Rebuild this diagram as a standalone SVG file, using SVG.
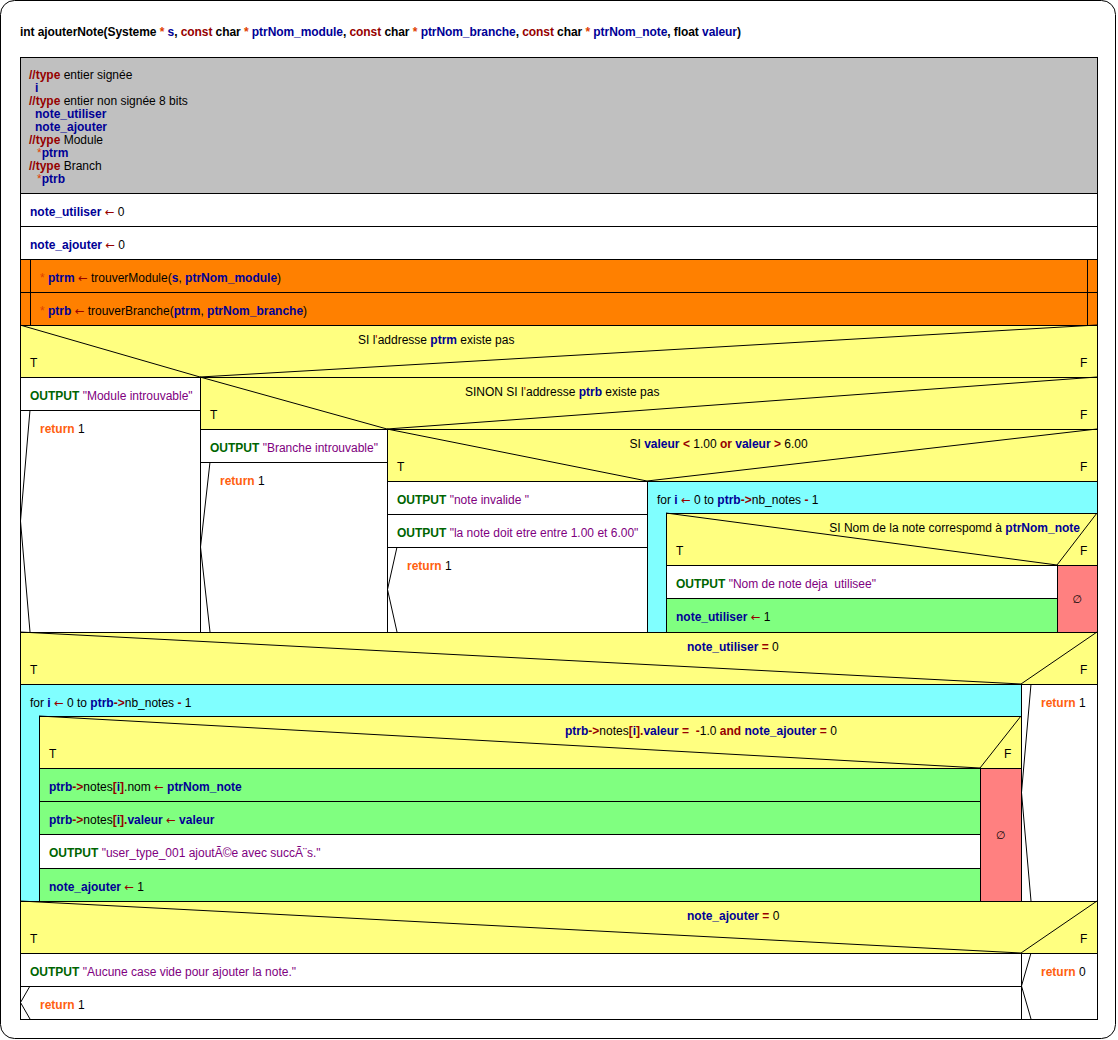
<svg xmlns="http://www.w3.org/2000/svg" width="1118" height="1040" viewBox="0 0 1118 1040">
  <style>
    text { font-family: "Liberation Sans", Arial, "DejaVu Sans", sans-serif; font-size: 12px; fill: #000; white-space: pre; }
    .b { font-weight: bold; }
    .title { letter-spacing: -0.07px; }
    .v { font-weight: bold; fill: #000096; }
    .o { font-weight: bold; fill: #960000; }
    .arr { font-family: "DejaVu Sans", sans-serif; font-size: 11.5px; font-weight: normal; fill: #960000; }
    .ap { fill: #C00000; }
    .star { fill: #E04000; }
    .k { font-weight: bold; fill: #006400; }
    .r { font-weight: bold; fill: #FF6010; }
    .s { fill: #800080; }
    .cell { stroke: #000; stroke-width: 1; shape-rendering: crispEdges; }
    .white { fill: #FFFFFF; }
    .gray { fill: #C0C0C0; }
    .orange { fill: #FF8000; }
    .yellow { fill: #FFFF80; }
    .cyan { fill: #80FFFF; }
    .green { fill: #80FF80; }
    .red { fill: #FF8080; }
    .div { stroke: #000; stroke-width: 1; fill: none; }
    .empty { font-family: "DejaVu Sans", sans-serif; font-size: 11px; text-anchor: middle; }
  </style>

  <!-- outer frame -->
  <rect x="0.5" y="0.5" width="1115" height="1038" rx="14" ry="14" fill="#FFFFFF" stroke="#000" stroke-width="1"/>

  <g id="signature">
    <text x="20" y="36" class="b title">int ajouterNote(Systeme <tspan class="star">*</tspan> <tspan class="v">s</tspan>, <tspan class="o">const</tspan> char <tspan class="star">*</tspan> <tspan class="v">ptrNom_module</tspan>, <tspan class="o">const</tspan> char <tspan class="star">*</tspan> <tspan class="v">ptrNom_branche</tspan>, <tspan class="o">const</tspan> char <tspan class="star">*</tspan> <tspan class="v">ptrNom_note</tspan>, float <tspan class="v">valeur</tspan>)</text>
  </g>

  <!-- cells, drawn on half-pixel grid -->
  <g id="cells" transform="translate(0.5,0.5)">
    <g id="declarations"><rect class="cell gray" x="20" y="57" width="1077" height="136"/></g>
    <g id="init-utiliser"><rect class="cell white" x="20" y="193" width="1077" height="33"/></g>
    <g id="init-ajouter"><rect class="cell white" x="20" y="226" width="1077" height="33"/></g>
    <g id="call-module">
      <rect class="cell orange" x="20" y="259" width="1077" height="33"/>
      <line class="cell" x1="30" y1="259" x2="30" y2="292"/>
      <line class="cell" x1="1087" y1="259" x2="1087" y2="292"/>
    </g>
    <g id="call-branche">
      <rect class="cell orange" x="20" y="292" width="1077" height="33"/>
      <line class="cell" x1="30" y1="292" x2="30" y2="325"/>
      <line class="cell" x1="1087" y1="292" x2="1087" y2="325"/>
    </g>

    <g id="if-ptrm">
      <rect class="cell yellow" x="20" y="325" width="1077" height="52"/>
      <rect class="cell white" x="20" y="377" width="180" height="33"/>
      <rect class="cell white" x="20" y="410" width="180" height="222"/>
    </g>
    <g id="if-ptrb">
      <rect class="cell yellow" x="200" y="377" width="897" height="52"/>
      <rect class="cell white" x="200" y="429" width="187" height="33"/>
      <rect class="cell white" x="200" y="462" width="187" height="170"/>
    </g>
    <g id="if-valeur">
      <rect class="cell yellow" x="387" y="429" width="710" height="52"/>
      <rect class="cell white" x="387" y="481" width="260" height="33"/>
      <rect class="cell white" x="387" y="514" width="260" height="33"/>
      <rect class="cell white" x="387" y="547" width="260" height="85"/>
    </g>
    <g id="loop-check">
      <rect class="cell cyan" x="647" y="481" width="450" height="151"/>
      <rect class="cell yellow" x="666" y="513" width="431" height="52"/>
      <rect class="cell white" x="666" y="565" width="391" height="33"/>
      <rect class="cell green" x="666" y="598" width="391" height="34"/>
      <rect class="cell red" x="1057" y="565" width="40" height="67"/>
    </g>

    <g id="if-utiliser">
      <rect class="cell yellow" x="20" y="632" width="1077" height="52"/>
      <rect class="cell white" x="1021" y="684" width="76" height="217"/>
    </g>
    <g id="loop-add">
      <rect class="cell cyan" x="20" y="684" width="1001" height="217"/>
      <rect class="cell yellow" x="39" y="716" width="982" height="52"/>
      <rect class="cell green" x="39" y="768" width="941" height="33"/>
      <rect class="cell green" x="39" y="801" width="941" height="33"/>
      <rect class="cell white" x="39" y="834" width="941" height="34"/>
      <rect class="cell green" x="39" y="868" width="941" height="33"/>
      <rect class="cell red" x="980" y="768" width="41" height="133"/>
    </g>

    <g id="if-ajouter">
      <rect class="cell yellow" x="20" y="901" width="1077" height="52"/>
      <rect class="cell white" x="20" y="953" width="1001" height="33"/>
      <rect class="cell white" x="20" y="986" width="1001" height="33"/>
      <rect class="cell white" x="1021" y="953" width="76" height="66"/>
    </g>
  </g>

  <!-- branch diagonals and jump chevrons -->
  <g id="connectors">
    <polyline class="div" points="20,325 200,377 1097,325"/>
    <polyline class="div" points="200,377 387,429 1097,377"/>
    <polyline class="div" points="387,429 647,481 1097,429"/>
    <polyline class="div" points="666,513 1057,565 1097,513"/>
    <polyline class="div" points="20,632 1021,684 1097,632"/>
    <polyline class="div" points="39,716 980,768 1021,716"/>
    <polyline class="div" points="20,901 1021,953 1097,901"/>

    <polyline class="div" points="30,410 20.5,521 30,632"/>
    <polyline class="div" points="210,462 200.5,547 210,632"/>
    <polyline class="div" points="397,547 387.5,589.5 397,632"/>
    <polyline class="div" points="1031,684 1021.5,792.5 1031,901"/>
    <polyline class="div" points="30,986 20.5,1002.5 30,1019"/>
    <polyline class="div" points="1031,953 1021.5,986 1031,1019"/>
  </g>

  <g id="texts">
    <!-- declarations -->
    <text x="29" y="79"><tspan class="o">//type</tspan> entier signée</text>
    <text x="35" y="92" class="v">i</text>
    <text x="29" y="105"><tspan class="o">//type</tspan> entier non signée 8 bits</text>
    <text x="35" y="118" class="v">note_utiliser</text>
    <text x="35" y="131" class="v">note_ajouter</text>
    <text x="29" y="144"><tspan class="o">//type</tspan> Module</text>
    <text x="37" y="157"><tspan class="star">*</tspan><tspan class="v">ptrm</tspan></text>
    <text x="29" y="170"><tspan class="o">//type</tspan> Branch</text>
    <text x="37" y="183"><tspan class="star">*</tspan><tspan class="v">ptrb</tspan></text>

    <text x="30" y="216"><tspan class="v">note_utiliser</tspan> <tspan class="arr">←</tspan> 0</text>
    <text x="30" y="249"><tspan class="v">note_ajouter</tspan> <tspan class="arr">←</tspan> 0</text>
    <text x="40" y="282"><tspan class="star">*</tspan> <tspan class="v">ptrm</tspan> <tspan class="arr">←</tspan> trouverModule(<tspan class="v">s</tspan>, <tspan class="v">ptrNom_module</tspan>)</text>
    <text x="40" y="315"><tspan class="star">*</tspan> <tspan class="v">ptrb</tspan> <tspan class="arr">←</tspan> trouverBranche(<tspan class="v">ptrm</tspan>, <tspan class="v">ptrNom_branche</tspan>)</text>

    <!-- if ptrm -->
    <text x="358" y="344">SI l<tspan class="ap">'</tspan>addresse <tspan class="v">ptrm</tspan> existe pas</text>
    <text x="30" y="367">T</text>
    <text x="1080" y="367">F</text>
    <text x="30" y="400"><tspan class="k">OUTPUT</tspan> <tspan class="s">"Module introuvable"</tspan></text>
    <text x="40" y="433"><tspan class="r">return</tspan> 1</text>

    <!-- if ptrb -->
    <text x="465" y="396">SINON SI l<tspan class="ap">'</tspan>addresse <tspan class="v">ptrb</tspan> existe pas</text>
    <text x="210" y="419">T</text>
    <text x="1080" y="419">F</text>
    <text x="210" y="452"><tspan class="k">OUTPUT</tspan> <tspan class="s">"Branche introuvable"</tspan></text>
    <text x="220" y="485"><tspan class="r">return</tspan> 1</text>

    <!-- if valeur -->
    <text x="629.5" y="448">SI <tspan class="v">valeur</tspan> <tspan class="o">&lt;</tspan> 1.00 <tspan class="o">or</tspan> <tspan class="v">valeur</tspan> <tspan class="o">&gt;</tspan> 6.00</text>
    <text x="397" y="471">T</text>
    <text x="1080" y="471">F</text>
    <text x="397" y="504"><tspan class="k">OUTPUT</tspan> <tspan class="s">"note invalide "</tspan></text>
    <text x="397" y="537"><tspan class="k">OUTPUT</tspan> <tspan class="s">"la note doit etre entre 1.00 et 6.00"</tspan></text>
    <text x="407" y="570"><tspan class="r">return</tspan> 1</text>

    <!-- loop check -->
    <text x="657" y="504">for <tspan class="v">i</tspan> <tspan class="arr">←</tspan> 0 to <tspan class="v">ptrb</tspan><tspan class="o">-&gt;</tspan>nb_notes <tspan class="o">-</tspan> 1</text>
    <text x="1080" y="532" text-anchor="end">SI Nom de la note correspomd à <tspan class="v">ptrNom_note</tspan></text>
    <text x="676" y="555">T</text>
    <text x="1080" y="555">F</text>
    <text x="676" y="588"><tspan class="k">OUTPUT</tspan> <tspan class="s">"Nom de note deja  utilisee"</tspan></text>
    <text x="676" y="621"><tspan class="v">note_utiliser</tspan> <tspan class="arr">←</tspan> 1</text>
    <text x="1077" y="602.5" class="empty">∅</text>

    <!-- if utiliser -->
    <text x="687" y="651"><tspan class="v">note_utiliser</tspan> <tspan class="o">=</tspan> 0</text>
    <text x="30" y="674">T</text>
    <text x="1080" y="674">F</text>
    <text x="1041" y="707"><tspan class="r">return</tspan> 1</text>

    <!-- loop add -->
    <text x="30" y="707">for <tspan class="v">i</tspan> <tspan class="arr">←</tspan> 0 to <tspan class="v">ptrb</tspan><tspan class="o">-&gt;</tspan>nb_notes <tspan class="o">-</tspan> 1</text>
    <text x="565" y="735"><tspan class="v">ptrb</tspan><tspan class="o">-&gt;</tspan>notes<tspan class="o">[</tspan><tspan class="v">i</tspan><tspan class="o">].</tspan><tspan class="v">valeur</tspan> <tspan class="o">=</tspan>  <tspan class="o">-</tspan>1.0 <tspan class="o">and</tspan> <tspan class="v">note_ajouter</tspan> <tspan class="o">=</tspan> 0</text>
    <text x="49" y="758">T</text>
    <text x="1004" y="758">F</text>
    <text x="49" y="791"><tspan class="v">ptrb</tspan><tspan class="o">-&gt;</tspan>notes<tspan class="o">[</tspan><tspan class="v">i</tspan><tspan class="o">]</tspan>.nom <tspan class="arr">←</tspan> <tspan class="v">ptrNom_note</tspan></text>
    <text x="49" y="824"><tspan class="v">ptrb</tspan><tspan class="o">-&gt;</tspan>notes<tspan class="o">[</tspan><tspan class="v">i</tspan><tspan class="o">].</tspan><tspan class="v">valeur</tspan> <tspan class="arr">←</tspan> <tspan class="v">valeur</tspan></text>
    <text x="49" y="857"><tspan class="k">OUTPUT</tspan> <tspan class="s">"user_type_001 ajoutÃ©e avec succÃ¨s."</tspan></text>
    <text x="49" y="891"><tspan class="v">note_ajouter</tspan> <tspan class="arr">←</tspan> 1</text>
    <text x="1000.5" y="839" class="empty">∅</text>

    <!-- if ajouter -->
    <text x="687" y="920"><tspan class="v">note_ajouter</tspan> <tspan class="o">=</tspan> 0</text>
    <text x="30" y="942.5">T</text>
    <text x="1080" y="942.5">F</text>
    <text x="30" y="976"><tspan class="k">OUTPUT</tspan> <tspan class="s">"Aucune case vide pour ajouter la note."</tspan></text>
    <text x="40" y="1009"><tspan class="r">return</tspan> 1</text>
    <text x="1041" y="976"><tspan class="r">return</tspan> 0</text>
  </g>
</svg>
